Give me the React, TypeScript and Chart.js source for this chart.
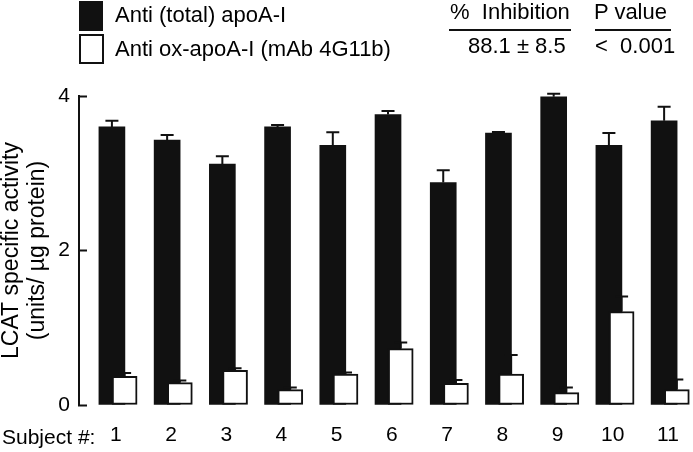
import React, { useEffect, useRef } from 'react';
import { Chart, registerables } from 'chart.js';

Chart.register(...registerables);

const SUBJECTS = ['1', '2', '3', '4', '5', '6', '7', '8', '9', '10', '11'];
const ANTI_TOTAL = [3.6, 3.43, 3.12, 3.6, 3.36, 3.76, 2.88, 3.52, 3.99, 3.36, 3.68];
const ANTI_TOTAL_ERR = [0.08, 0.065, 0.1, 0.026, 0.17, 0.047, 0.16, 0.013, 0.04, 0.16, 0.18];
const ANTI_OX = [0.37, 0.29, 0.45, 0.2, 0.4, 0.73, 0.28, 0.4, 0.16, 1.21, 0.2];
const ANTI_OX_ERR = [0.044, 0.026, 0.026, 0.026, 0.022, 0.078, 0.043, 0.246, 0.065, 0.194, 0.13];
const Y_TICKS = [0, 2, 4];

const FONT = "'Liberation Sans', Arial, Helvetica, sans-serif";
const INK = '#111111';

// horizontal offsets (in subject units) of each bar relative to its tick
const TOTAL_SHIFT = -0.07;
const OX_SHIFT = 0.16;

const errorBarPlugin = {
  id: 'errorBars',
  afterDatasetDraw(chart: any, args: any) {
    const ds: any = chart.data.datasets[args.index];
    const errs: number[] = ds.errors;
    if (!errs) return;
    const yScale = chart.scales.y;
    const ctx = chart.ctx;
    ctx.save();
    ctx.strokeStyle = INK;
    ctx.lineWidth = 2;
    args.meta.data.forEach((el: any, i: number) => {
      const v = ds.data[i].y;
      const top = yScale.getPixelForValue(v + errs[i]);
      const x = el.x;
      ctx.beginPath();
      ctx.moveTo(x, el.y);
      ctx.lineTo(x, top);
      ctx.moveTo(x - 6.5, top);
      ctx.lineTo(x + 6.5, top);
      ctx.stroke();
    });
    ctx.restore();
  },
};

const textStyle = (left: number, baseline: number, size = 22): React.CSSProperties => ({
  position: 'absolute',
  left,
  top: baseline - size * 0.8465,
  fontFamily: FONT,
  fontSize: size,
  lineHeight: `${size}px`,
  color: '#000',
  whiteSpace: 'pre',
});

export default function App() {
  const canvasRef = useRef<HTMLCanvasElement>(null);

  useEffect(() => {
    const canvas = canvasRef.current;
    if (!canvas) return;
    const chart = new Chart(canvas, {
      type: 'bar',
      data: {
        datasets: [
          {
            label: 'Anti (total) apoA-I',
            data: ANTI_TOTAL.map((y, i) => ({ x: i + 1 + TOTAL_SHIFT, y })),
            errors: ANTI_TOTAL_ERR,
            backgroundColor: INK,
            borderWidth: 0,
            barThickness: 26,
            grouped: false,
            order: 1,
          } as any,
          {
            label: 'Anti ox-apoA-I (mAb 4G11b)',
            data: ANTI_OX.map((y, i) => ({ x: i + 1 + OX_SHIFT, y })),
            errors: ANTI_OX_ERR,
            backgroundColor: '#ffffff',
            borderColor: INK,
            borderWidth: 2,
            borderSkipped: false,
            barThickness: 25,
            grouped: false,
            order: 0,
          } as any,
        ],
      },
      plugins: [errorBarPlugin],
      options: {
        animation: false,
        responsive: false,
        devicePixelRatio: 1,
        layout: { padding: { top: 96, left: 0, right: 0, bottom: 0 } },
        plugins: { legend: { display: false }, tooltip: { enabled: false } },
        scales: {
          x: {
            type: 'linear',
            offset: false,
            min: 0.334,
            max: 11.453,
            grid: { display: false, drawTicks: false, offset: false },
            border: { display: false },
            afterBuildTicks: (s: any) => {
              s.ticks = SUBJECTS.map((_, i) => ({ value: i + 1 }));
            },
            afterFit: (s: any) => {
              s.height = 47;
              s.paddingLeft = 0;
              s.paddingRight = 0;
            },
            ticks: {
              autoSkip: false,
              maxRotation: 0,
              padding: 18,
              color: '#000',
              font: { family: FONT, size: 21 },
              callback: (v: any) => SUBJECTS[Math.round(Number(v)) - 1] ?? '',
            },
          },
          y: {
            type: 'linear',
            min: 0,
            max: 4,
            afterBuildTicks: (s: any) => {
              s.ticks = Y_TICKS.map((v) => ({ value: v }));
            },
            afterFit: (s: any) => {
              s.width = 79;
            },
            grid: {
              display: true,
              drawOnChartArea: false,
              drawTicks: true,
              tickLength: -8,
              tickWidth: 2,
              tickColor: INK,
            },
            border: { display: true, width: 2, color: INK },
            ticks: {
              padding: 17,
              color: '#000',
              font: { family: FONT, size: 21 },
              callback: (v: any) => String(v),
            },
            title: {
              display: true,
              text: ['LCAT specific activity', '(units/ µg protein)'],
              color: '#000',
              font: { family: FONT, size: 23, lineHeight: 1.15 },
              padding: { top: -2, bottom: 0 },
            },
          },
        },
      } as any,
    });
    return () => chart.destroy();
  }, []);

  return (
    <div style={{ position: 'fixed', left: 0, top: 0, width: 693, height: 452, background: '#fff' }}>
      <canvas ref={canvasRef} width={693} height={452} style={{ position: 'absolute', left: 0, top: 0 }} />
      <div style={{ position: 'absolute', left: 79, top: 1, width: 24, height: 30, background: INK }} />
      <div
        style={{
          position: 'absolute',
          left: 79,
          top: 34,
          width: 25,
          height: 30,
          background: '#fff',
          border: `2px solid ${INK}`,
          boxSizing: 'border-box',
        }}
      />
      <div style={textStyle(115, 23)}>Anti (total) apoA-I</div>
      <div style={textStyle(115, 57)}>Anti ox-apoA-I (mAb 4G11b)</div>
      <div style={textStyle(450, 20)}>{'%  Inhibition'}</div>
      <div style={textStyle(594, 20)}>P value</div>
      <div style={{ position: 'absolute', left: 449, top: 29, width: 122, height: 2, background: INK }} />
      <div style={{ position: 'absolute', left: 595, top: 29, width: 76, height: 2, background: INK }} />
      <div style={textStyle(468, 54)}>88.1 ± 8.5</div>
      <div style={textStyle(595, 54)}>{'<  0.001'}</div>
      <div style={textStyle(2, 444, 21)}>Subject #:</div>
    </div>
  );
}
